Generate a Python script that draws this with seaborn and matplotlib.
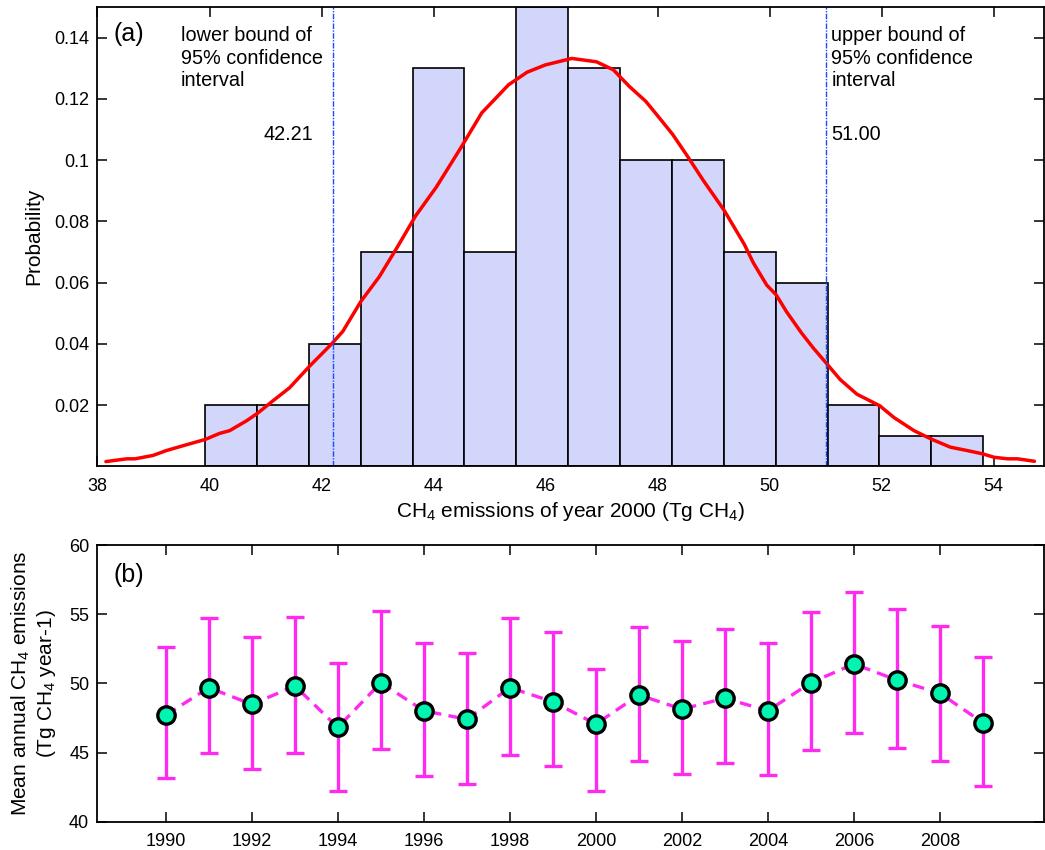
import numpy as np
import matplotlib
matplotlib.use("Agg")
import matplotlib.pyplot as plt
import seaborn as sns

# --- panel (a): histogram of year-2000 emissions ---
bin_edges = [39.92, 40.85, 41.78, 42.70, 43.63, 44.55, 45.48, 46.41,
             47.33, 48.26, 49.18, 50.11, 51.04, 51.96, 52.89, 53.82]
bin_prob = [0.02, 0.02, 0.04, 0.07, 0.13, 0.07, 0.15, 0.13,
            0.10, 0.10, 0.07, 0.06, 0.02, 0.01, 0.01]

# fitted density curve
curve_x = [38.15, 38.52, 38.67, 38.99, 39.23, 39.59, 39.92, 40.18, 40.36,
           40.66, 40.86, 41.13, 41.43, 41.79, 42.18, 42.38, 42.70, 43.03,
           43.35, 43.68, 44.05, 44.49, 44.86, 45.34, 45.67, 46.00, 46.47, 46.91,
           47.21, 47.50, 47.79, 48.01, 48.27, 48.53, 48.82, 49.19, 49.55,
           49.71, 49.95, 50.12, 50.30, 50.57, 50.78, 51.01, 51.26, 51.56,
           51.97, 52.22, 52.58, 52.88, 53.23, 53.53, 53.81, 54.01, 54.25,
           54.43, 54.73]
curve_y = [0.0016, 0.0025, 0.0025, 0.0036, 0.0052, 0.0071, 0.0088, 0.0108,
           0.0117, 0.0149, 0.0174, 0.0214, 0.0257, 0.0328, 0.0400, 0.0441,
           0.0538, 0.0619, 0.0715, 0.0818, 0.0912, 0.1041, 0.1154, 0.1246, 0.1287,
           0.1311, 0.1332, 0.1321, 0.1295, 0.1240, 0.1192, 0.1143, 0.1084,
           0.1014, 0.0933, 0.0836, 0.0725, 0.0665, 0.0592, 0.0560, 0.0506,
           0.0436, 0.0387, 0.0338, 0.0284, 0.0236, 0.0198, 0.0160, 0.0117,
           0.0090, 0.0063, 0.0052, 0.0041, 0.0030, 0.0025, 0.0025, 0.0017]

ci_low = 42.21
ci_high = 51.00

# --- panel (b): annual means with uncertainty ---
years = [1990, 1991, 1992, 1993, 1994, 1995, 1996, 1997, 1998, 1999,
         2000, 2001, 2002, 2003, 2004, 2005, 2006, 2007, 2008, 2009]
mean_emis = [47.71, 49.69, 48.48, 49.81, 46.82, 50.05, 48.02, 47.40, 49.69, 48.67,
             47.06, 49.16, 48.14, 48.92, 48.02, 50.05, 51.40, 50.24, 49.28, 47.16]
upper_emis = [52.60, 54.70, 53.37, 54.82, 51.49, 55.20, 52.94, 52.17, 54.70, 53.69,
              51.04, 54.05, 53.04, 53.95, 52.94, 55.18, 56.60, 55.37, 54.14, 51.93]
lower_emis = [43.13, 44.94, 43.81, 44.94, 42.24, 45.23, 43.33, 42.70, 44.82, 44.02,
              42.24, 44.39, 43.45, 44.27, 43.35, 45.16, 46.39, 45.35, 44.39, 42.58]

sns.set_style("ticks")
plt.rcParams["font.family"] = ["Liberation Sans", "DejaVu Sans"]
plt.rcParams["mathtext.fontset"] = "custom"
plt.rcParams["mathtext.rm"] = "Liberation Sans"
plt.rcParams["mathtext.it"] = "Liberation Sans:italic"
plt.rcParams["axes.edgecolor"] = "black"
plt.rcParams["axes.linewidth"] = 1.3
plt.rcParams["text.color"] = "black"
plt.rcParams["axes.labelcolor"] = "black"

fig = plt.figure(figsize=(10.45, 8.5), dpi=100)
ax1 = fig.add_axes([0.0933, 0.4512, 0.9057, 0.5406])
ax2 = fig.add_axes([0.0933, 0.0333, 0.9057, 0.3255])

# Panel (a)
centers = [(a + b) / 2 for a, b in zip(bin_edges[:-1], bin_edges[1:])]
sns.histplot(x=centers, weights=bin_prob, bins=bin_edges, ax=ax1,
             color="#d1d6fa", edgecolor="black", linewidth=1.2, alpha=1)
sns.lineplot(x=curve_x, y=curve_y, ax=ax1, color="red", linewidth=2.5)
for v in (ci_low, ci_high):
    ax1.axvline(v, color="#1a4cff", linewidth=1.0, linestyle=(0, (4, 1, 1, 1)))

ax1.set_xlim(38, 54.9)
ax1.set_ylim(0, 0.15)
ax1.set_xticks(range(38, 55, 2))
ax1.set_yticks([0.02, 0.04, 0.06, 0.08, 0.10, 0.12, 0.14])
ax1.set_yticklabels(["0.02", "0.04", "0.06", "0.08", "0.1", "0.12", "0.14"])
ax1.set_xlabel("CH$_4$ emissions of year 2000 (Tg CH$_4$)", fontsize=15, labelpad=4)
ax1.set_ylabel("Probability", fontsize=15, labelpad=8)

ax1.text(0.017, 0.967, "(a)", transform=ax1.transAxes, fontsize=18, va="top")
ax1.text(39.49, 0.1437, "lower bound of\n95% confidence\ninterval", fontsize=14.3,
         va="top", ha="left", linespacing=1.22)
ax1.text(41.85, 0.1085, "42.21", fontsize=14.3, va="center", ha="right")
ax1.text(51.1, 0.1437, "upper bound of\n95% confidence\ninterval", fontsize=14.3,
         va="top", ha="left", linespacing=1.22)
ax1.text(51.1, 0.1085, "51.00", fontsize=14.3, va="center", ha="left")

# Panel (b)
yerr = [[m - lo for m, lo in zip(mean_emis, lower_emis)],
        [hi - m for m, hi in zip(mean_emis, upper_emis)]]
ax2.errorbar(years, mean_emis, yerr=yerr, fmt="none", ecolor="#ff2af0",
             elinewidth=2.4, capsize=6.5, capthick=2.4, zorder=2)
sns.lineplot(x=years, y=mean_emis, ax=ax2, color="#ff2af0", linewidth=2.4,
             linestyle=(0, (3.5, 2.2)), marker="o", markersize=12.5,
             markerfacecolor="#00f5b0", markeredgecolor="black",
             markeredgewidth=2.4, zorder=3)

ax2.set_xlim(1988.41, 2010.42)
ax2.set_ylim(40, 60)
ax2.set_xticks(range(1990, 2009, 2))
ax2.set_yticks([40, 45, 50, 55, 60])
ax2.set_ylabel("Mean annual CH$_4$ emissions\n(Tg CH$_4$ year-1)", fontsize=15,
               labelpad=8, linespacing=1.15)
ax2.text(0.017, 0.935, "(b)", transform=ax2.transAxes, fontsize=18, va="top")

for ax in (ax1, ax2):
    ax.tick_params(direction="in", top=True, right=True, length=7, width=1.1,
                   labelsize=13, colors="black", pad=6)
    ax.tick_params(axis="x", pad=8)

fig.savefig("out.png", dpi=100)
plt.close(fig)
